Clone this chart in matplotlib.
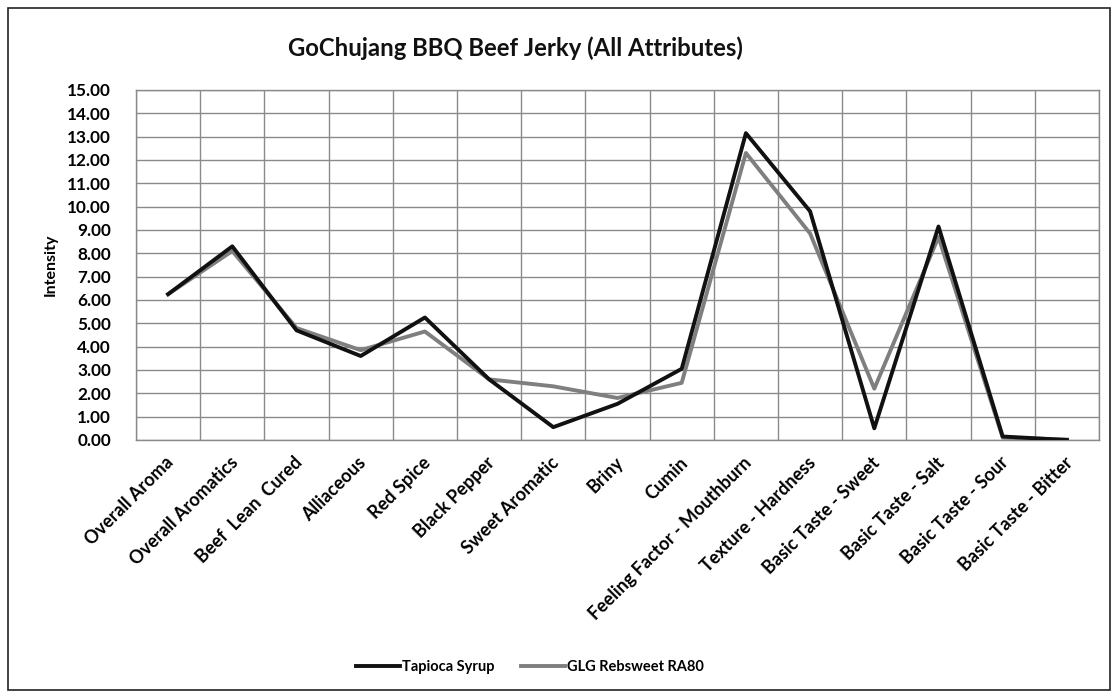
import matplotlib
matplotlib.use("Agg")
import matplotlib.pyplot as plt
from matplotlib.patches import Rectangle
from matplotlib.transforms import ScaledTranslation, blended_transform_factory
import numpy as np

attributes = [
    "Overall Aroma", "Overall Aromatics", "Beef  Lean  Cured", "Alliaceous",
    "Red Spice", "Black Pepper", "Sweet Aromatic", "Briny", "Cumin",
    "Feeling Factor - Mouthburn", "Texture - Hardness", "Basic Taste - Sweet",
    "Basic Taste - Salt", "Basic Taste - Sour", "Basic Taste - Bitter",
]
tapioca_syrup = [6.25, 8.3, 4.7, 3.6, 5.25, 2.6, 0.55, 1.55, 3.05,
                 13.15, 9.8, 0.5, 9.15, 0.15, 0.0]
glg_rebsweet = [6.25, 8.1, 4.8, 3.85, 4.65, 2.6, 2.3, 1.8, 2.45,
                12.3, 8.85, 2.2, 8.7, 0.1, 0.02]
y_ticks = np.arange(0, 16, 1)

plt.rcParams["font.family"] = ["Lato", "DejaVu Sans"]

W, H = 1119, 698
fig = plt.figure(figsize=(W / 100, H / 100), dpi=100)
fig.patch.set_facecolor("white")

# outer chart frame
fig.add_artist(Rectangle((8 / W, 8 / H), (1110 - 8) / W, (690 - 8) / H,
                         transform=fig.transFigure, fill=False,
                         edgecolor="#222222", linewidth=1.2))

ax = fig.add_axes([136 / W, (H - 440) / H, (1099 - 136) / W, (440 - 90) / H])
x = np.arange(len(attributes))

ax.plot(x, tapioca_syrup, color="#111111", lw=2.8, label="Tapioca Syrup", zorder=4)
ax.plot(x, glg_rebsweet, color="#7f7f7f", lw=2.8, label="GLG Rebsweet RA80", zorder=3)

ax.set_xlim(-0.5, len(attributes) - 0.5)
ax.set_ylim(0, 15)
ax.set_yticks(y_ticks)
ax.set_yticklabels([f"{v:.2f}" for v in y_ticks], fontsize=12.3, fontweight="bold")

# category labels, rotated and anchored just below each category
ax.set_xticks(x)
ax.set_xticklabels([])
label_tf = blended_transform_factory(ax.transData, ax.transAxes) + \
    ScaledTranslation(-3 / 100, -14 / 100, fig.dpi_scale_trans)
for xi, name in zip(x, attributes):
    ax.text(xi, 0, name, transform=label_tf, rotation=45, ha="right", va="top",
            rotation_mode="anchor", fontsize=13, fontweight="bold", clip_on=False)

ax.set_xticks(np.arange(-0.5, len(attributes), 1), minor=True)
ax.tick_params(axis="both", which="both", length=0)
ax.tick_params(axis="y", pad=18)

ax.grid(axis="y", which="major", color="#8a8a8a", lw=1.0)
ax.grid(axis="x", which="minor", color="#8a8a8a", lw=1.0)
ax.set_axisbelow(True)
for s in ax.spines.values():
    s.set_color("#8a8a8a")
    s.set_linewidth(1.0)

ax.set_ylabel("Intensity", fontsize=11.5, fontweight="bold", labelpad=7)

fig.text(515 / W, 1 - 48 / H, "GoChujang BBQ Beef Jerky (All Attributes)",
         ha="center", va="center", fontsize=17.2, fontweight="bold", color="#111111")

fig.legend(loc="center", bbox_to_anchor=(530 / W, 1 - 667 / H), ncol=2,
           frameon=False, prop={"weight": "bold", "size": 10.5},
           handlelength=3.0, handletextpad=0.15, columnspacing=1.8)

fig.savefig("out.png", dpi=100, facecolor="white")
